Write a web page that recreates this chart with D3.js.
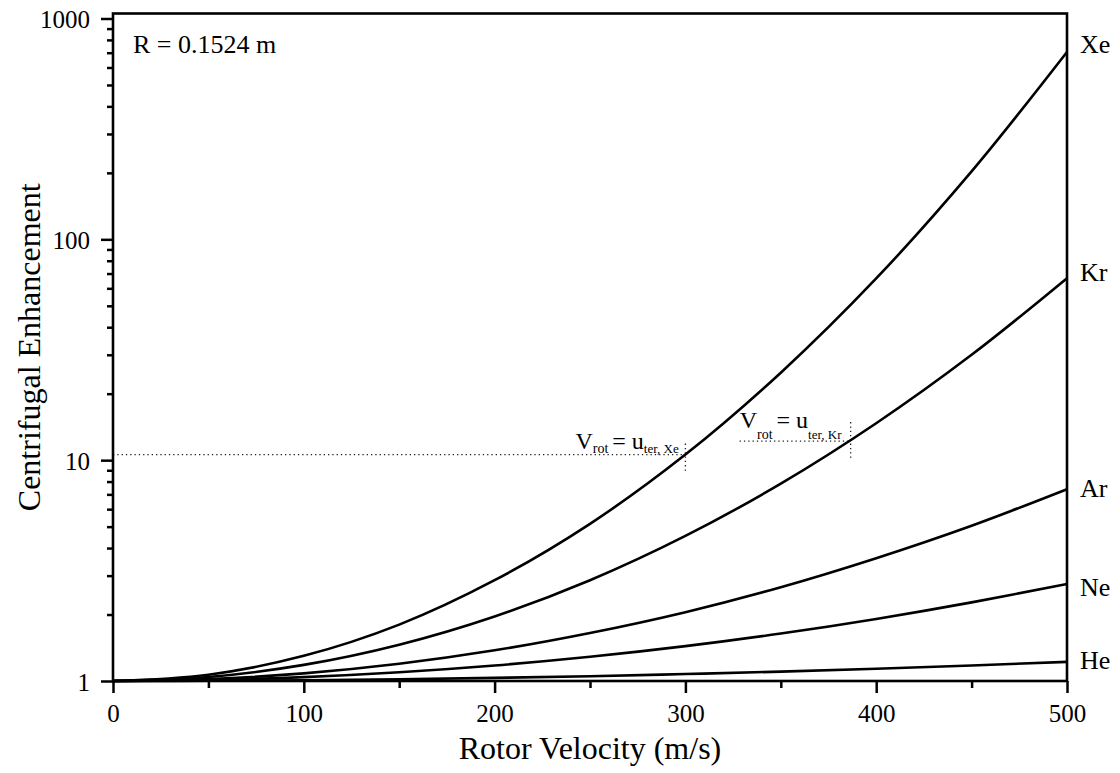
<!DOCTYPE html>
<html>
<head>
<meta charset="utf-8">
<script src="https://cdn.jsdelivr.net/npm/d3@7"></script>
<style>
  html, body { margin: 0; padding: 0; background: #fff; }
  svg { display: block; }
  text { font-family: "Times New Roman", "Liberation Serif", serif; fill: #000; }
</style>
</head>
<body>
<svg id="chart" width="1120" height="773"></svg>
<script>
// Rotor velocity samples (m/s)
const velocity = [0, 50, 100, 150, 200, 250, 300, 350, 400, 450, 500];

// Centrifugal enhancement for each noble gas at the sampled velocities
const gases = ["He", "Ne", "Ar", "Kr", "Xe"];
const heValues = [1, 1.002, 1.008, 1.018, 1.033, 1.051, 1.075, 1.103, 1.137, 1.176, 1.221];
const neValues = [1, 1.010, 1.041, 1.095, 1.175, 1.287, 1.438, 1.640, 1.910, 2.270, 2.750];
const arValues = [1, 1.020, 1.083, 1.197, 1.377, 1.650, 2.050, 2.660, 3.600, 5.050, 7.390];
const krValues = [1, 1.043, 1.183, 1.460, 1.960, 2.860, 4.540, 7.830, 14.70, 30.00, 66.70];
const xeValues = [1, 1.068, 1.300, 1.800, 2.860, 5.150, 10.60, 24.90, 66.50, 203.0, 705.0];

// Terminal-velocity markers: velocity where the rotor matches u_ter, and enhancement there
const markerGas = ["Xe", "Kr"];
const markerVelocity = [300, 386.6];
const markerEnhancement = [10.6, 12.2];

// Axis ticks
const xMajorTicks = [0, 100, 200, 300, 400, 500];
const xMinorTicks = [50, 150, 250, 350, 450];
const yMajorTicks = [1, 10, 100, 1000];
const yMinorTicks = [2, 3, 4, 5, 6, 7, 8, 9, 20, 30, 40, 50, 60, 70, 80, 90, 200, 300, 400, 500, 600, 700, 800, 900];

const seriesValues = { He: heValues, Ne: neValues, Ar: arValues, Kr: krValues, Xe: xeValues };

// ---- layout ----
const plotLeft = 113, plotRight = 1067, plotTop = 13.5, plotBottom = 681;
const svg = d3.select("#chart");

const x = d3.scaleLinear().domain([0, 500]).range([plotLeft, plotRight]);
const y = d3.scaleLog().domain([1, 1000]).range([plotBottom, 18.5]);

const tickFont = "25px";

// Bottom axis: major ticks with labels, minor ticks without
const xMajor = svg.append("g").attr("transform", `translate(0,${plotBottom})`)
  .call(d3.axisBottom(x).tickValues(xMajorTicks).tickSize(12).tickPadding(11).tickFormat(d3.format("d")));
const xMinor = svg.append("g").attr("transform", `translate(0,${plotBottom})`)
  .call(d3.axisBottom(x).tickValues(xMinorTicks).tickSize(7).tickFormat(""));

// Left axis: decades labelled, intermediate values as minor ticks
const yMajor = svg.append("g").attr("transform", `translate(${plotLeft},0)`)
  .call(d3.axisLeft(y).tickValues(yMajorTicks).tickSize(12).tickPadding(11).tickFormat(d3.format("d")));
const yMinor = svg.append("g").attr("transform", `translate(${plotLeft},0)`)
  .call(d3.axisLeft(y).tickValues(yMinorTicks).tickSize(6).tickFormat(""));

[xMajor, xMinor, yMajor, yMinor].forEach(g => {
  g.select(".domain").remove();
  g.selectAll(".tick line").attr("stroke", "#000").attr("stroke-width", 2.5);
  g.selectAll(".tick text")
    .style("font-family", '"Times New Roman", "Liberation Serif", serif')
    .style("font-size", tickFont).attr("fill", "#000");
});
yMajor.selectAll(".tick text").attr("dy", "0.36em");

// ---- reference markers (dotted) ----
const dotted = svg.append("g")
  .attr("fill", "none").attr("stroke", "#222")
  .attr("stroke-width", 1.3).attr("stroke-dasharray", "1.3,3");

// Xe: horizontal guide from the axis to the crossing, short vertical tick at the crossing
dotted.append("line")
  .attr("x1", x(0)).attr("x2", x(markerVelocity[0]))
  .attr("y1", y(markerEnhancement[0])).attr("y2", y(markerEnhancement[0]));
dotted.append("line")
  .attr("x1", x(markerVelocity[0])).attr("x2", x(markerVelocity[0]))
  .attr("y1", y(markerEnhancement[0]) - 11).attr("y2", y(markerEnhancement[0]) + 19);

// Kr: short horizontal guide under its label, vertical tick at the crossing
dotted.append("line")
  .attr("x1", x(markerVelocity[1]) - 111).attr("x2", x(markerVelocity[1]))
  .attr("y1", y(markerEnhancement[1])).attr("y2", y(markerEnhancement[1]));
dotted.append("line")
  .attr("x1", x(markerVelocity[1])).attr("x2", x(markerVelocity[1]))
  .attr("y1", y(markerEnhancement[1]) - 19).attr("y2", y(markerEnhancement[1]) + 19);

// ---- curves ----
const line = d3.line()
  .x(d => x(d[0]))
  .y(d => y(d[1]))
  .curve(d3.curveCatmullRom.alpha(0.5));

svg.append("g").selectAll("path")
  .data(gases)
  .join("path")
  .attr("d", g => line(velocity.map((v, i) => [v, seriesValues[g][i]])))
  .attr("fill", "none")
  .attr("stroke", "#000")
  .attr("stroke-width", 2.6)
  .attr("stroke-linejoin", "round");

// ---- frame ----
svg.append("rect")
  .attr("x", plotLeft).attr("y", plotTop)
  .attr("width", plotRight - plotLeft).attr("height", plotBottom - plotTop)
  .attr("fill", "none").attr("stroke", "#000").attr("stroke-width", 2.6);

// ---- gas labels at the right edge ----
const labelShift = { He: -2, Ne: 3, Ar: -1, Kr: -6, Xe: -8 };
svg.append("g").selectAll("text")
  .data(gases)
  .join("text")
  .attr("x", plotRight + 13)
  .attr("y", g => y(seriesValues[g][seriesValues[g].length - 1]) + labelShift[g])
  .attr("dy", "0.35em")
  .style("font-size", "26px")
  .text(g => g);

// ---- marker labels: V_rot = u_ter, gas ----
function markerLabel(xPos, yBase, subDrop, gas) {
  const t = svg.append("text").attr("x", xPos).attr("y", yBase).style("font-size", "24px");
  t.append("tspan").text("V");
  t.append("tspan").attr("dy", subDrop).style("font-size", "14px").text("rot");
  t.append("tspan").attr("dy", -subDrop).attr("dx", 4).text("= u");
  t.append("tspan").attr("dy", subDrop).style("font-size", "13px").text("ter, " + gas);
}
markerLabel(x(markerVelocity[0]) - 110, y(markerEnhancement[0]) - 6, 4, markerGas[0]);
markerLabel(x(markerVelocity[1]) - 111, y(markerEnhancement[1]) - 13, 11, markerGas[1]);

// ---- annotation and axis titles ----
svg.append("text")
  .attr("x", 133).attr("y", 53)
  .style("font-size", "26px")
  .text("R = 0.1524 m");

svg.append("text")
  .attr("x", (plotLeft + plotRight) / 2).attr("y", 759)
  .attr("text-anchor", "middle")
  .style("font-size", "32px")
  .text("Rotor Velocity (m/s)");

svg.append("text")
  .attr("transform", `translate(40,${(plotTop + plotBottom) / 2}) rotate(-90)`)
  .attr("text-anchor", "middle")
  .style("font-size", "32px")
  .text("Centrifugal Enhancement");
</script>
</body>
</html>
